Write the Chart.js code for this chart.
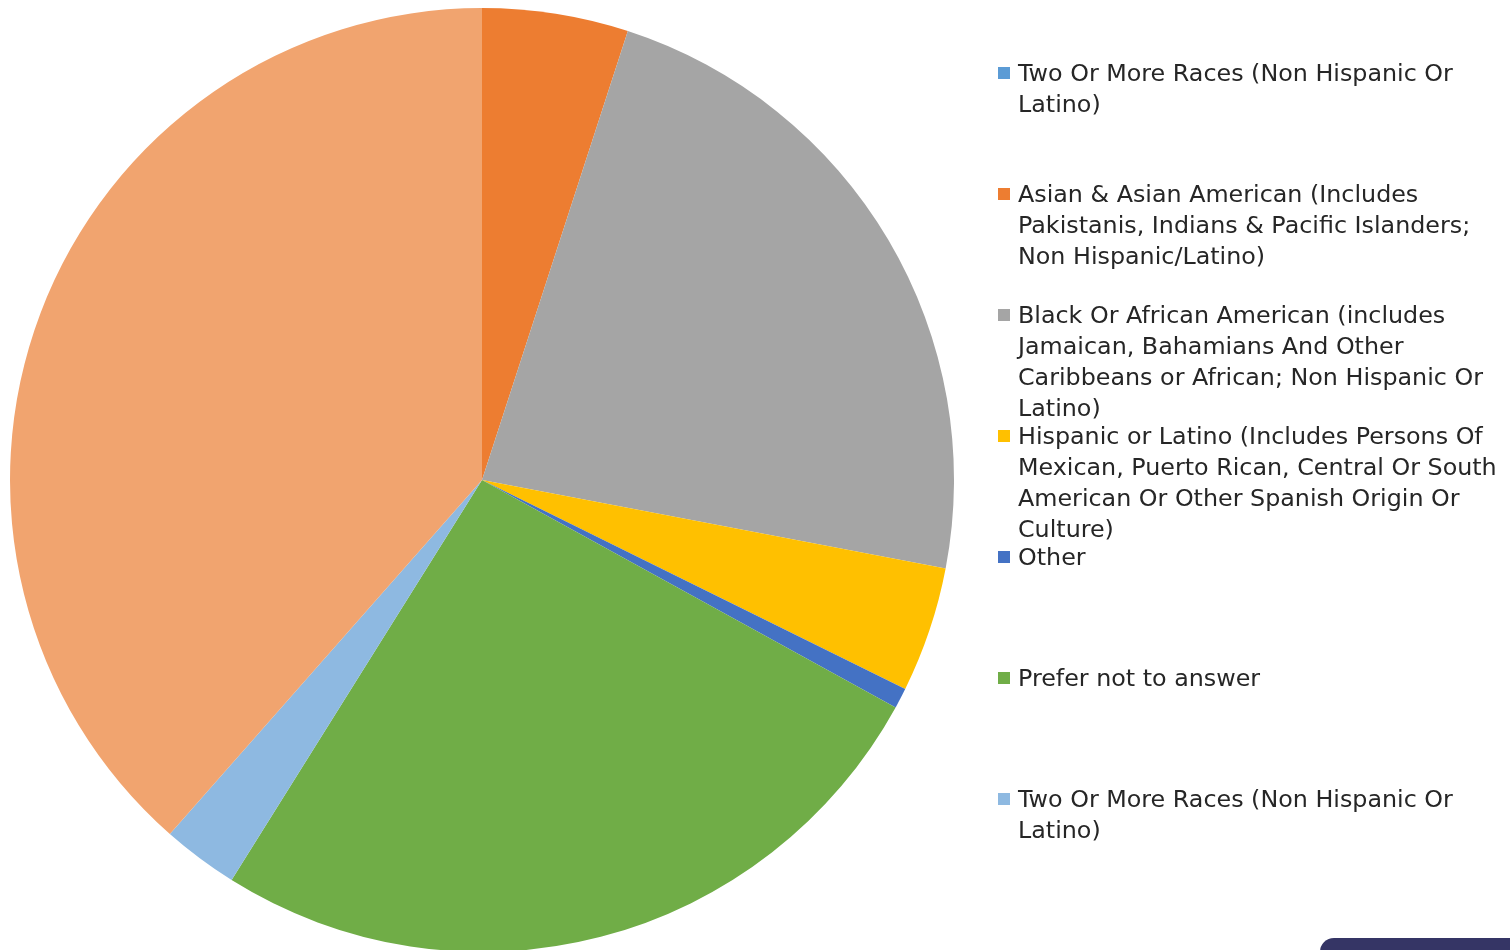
<!DOCTYPE html>
<html>
<head>
<meta charset="utf-8">
<script src="https://cdn.jsdelivr.net/npm/chart.js@4"></script>
<style>
  html, body { margin: 0; padding: 0; background: #ffffff; overflow: hidden; width: 1510px; height: 950px; }
  #wrap { position: absolute; left: 0; top: 0; width: 964px; height: 960px; }
  #legend { position: absolute; left: 0; top: 0; width: 1510px; height: 950px; pointer-events: none;
            font-family: "DejaVu Sans", sans-serif; font-size: 23.8px; color: #262626; }
  .item { position: absolute; left: 998px; }
  .box { position: absolute; left: 0; width: 12px; height: 12px; }
  .txt { position: absolute; left: 20px; line-height: 31px; white-space: nowrap; }
  #corner { position: absolute; left: 1320px; top: 938px; width: 200px; height: 20px; background: #353565;
            border-top-left-radius: 14px; }
</style>
</head>
<body>
<div id="wrap"><canvas id="c"></canvas></div>
<div id="legend"></div>
<div id="corner"></div>
<script>
// Categories (each label split into the lines shown in the legend)
const categories = [
  ["Two Or More Races (Non Hispanic Or", "Latino)"],
  ["Asian & Asian American (Includes", "Pakistanis, Indians & Pacific Islanders;", "Non Hispanic/Latino)"],
  ["Black Or African American (includes", "Jamaican, Bahamians And Other", "Caribbeans or African; Non Hispanic Or", "Latino)"],
  ["Hispanic or Latino (Includes Persons Of", "Mexican, Puerto Rican, Central Or South", "American Or Other Spanish Origin Or", "Culture)"],
  ["Other"],
  ["Prefer not to answer"],
  ["Two Or More Races (Non Hispanic Or", "Latino)"],
  ["White (Non Hispanic Or Latino)"]
];
// Share of respondents (%)
const values = [0, 5.0, 23.0, 4.3, 0.7, 25.9, 2.6, 38.5];
const colors = ["#5B9BD5", "#ED7D31", "#A5A5A5", "#FFC000", "#4472C4", "#70AD47", "#8EB9E1", "#F1A46F"];
// Categories shown in the legend (the last one is not listed in the reference)
const legendShown = [0, 1, 2, 3, 4, 5, 6];

const chart = new Chart(document.getElementById('c'), {
  type: 'pie',
  data: {
    labels: categories,
    datasets: [{ data: values, backgroundColor: colors, borderWidth: 0, hoverOffset: 0 }]
  },
  options: {
    responsive: true,
    maintainAspectRatio: false,
    animation: false,
    layout: { padding: { left: 10, top: 8, right: 10, bottom: 8 } },
    plugins: { legend: { display: false }, tooltip: { enabled: false } }
  }
});

// HTML legend built from the chart's own legend items
const items = Chart.overrides.pie.plugins.legend.labels.generateLabels(chart);
const legendEl = document.getElementById('legend');
legendShown.forEach((idx, slot) => {
  const it = items[idx];
  const div = document.createElement('div');
  div.className = 'item';
  div.style.top = (57.5 + 121 * slot) + 'px';
  const box = document.createElement('div');
  box.className = 'box';
  box.style.top = '9.5px';
  box.style.background = it.fillStyle;
  const txt = document.createElement('div');
  txt.className = 'txt';
  txt.style.top = '0px';
  const lines = Array.isArray(categories[idx]) ? categories[idx] : [categories[idx]];
  txt.innerHTML = lines.map(l => l.replace(/&/g, '&amp;')).join('<br>');
  div.appendChild(box);
  div.appendChild(txt);
  legendEl.appendChild(div);
});
</script>
</body>
</html>
